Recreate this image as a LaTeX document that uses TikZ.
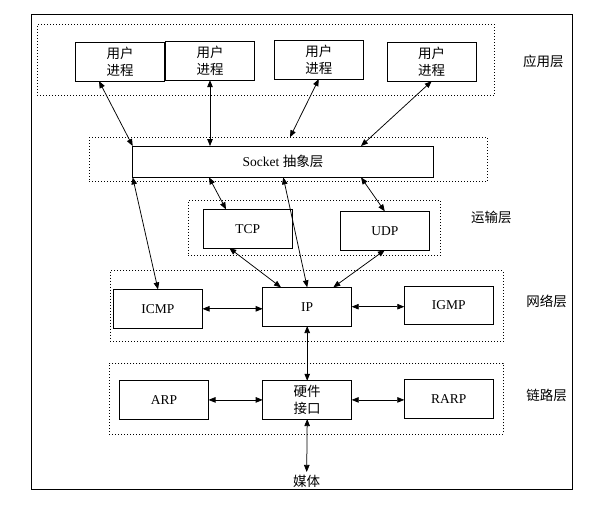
\documentclass[tikz,border=0pt]{standalone}
\usepackage{fontspec}
\setmainfont{Liberation Serif}
\newfontfamily\cjk{Noto Sans CJK SC}
\usetikzlibrary{arrows.meta,calc}
\begin{document}
\begin{tikzpicture}[x=1pt,y=-1pt,
  box/.style={draw, line width=1pt, inner sep=0pt, outer sep=0pt,
    minimum width=89pt, minimum height=38.7pt, align=center,
    font=\fontsize{13.5}{17.6}\selectfont},
  dotbox/.style={draw, line width=0.9pt, dash pattern=on 1pt off 2pt,
    inner sep=0pt, outer sep=0pt},
  lbl/.style={font=\cjk\fontsize{13.5}{16}\selectfont},
  link/.style={line width=0.75pt,
    {Triangle[length=7pt,width=5.5pt]}-{Triangle[length=7pt,width=5.5pt]}}
]
\useasboundingbox (0,0) rectangle (605,522);
% outer frame
\draw[line width=1pt] (31.7,14.3) rectangle (572.7,489);
% dotted layer boxes
\node[dotbox, minimum width=457pt, minimum height=71.4pt] (appd) at (265.8,60) {};
\node[dotbox, minimum width=398pt, minimum height=44.2pt] (sockd) at (288.3,159.4) {};
\node[dotbox, minimum width=252pt, minimum height=55.4pt] (transd) at (314.3,228) {};
\node[dotbox, minimum width=393.3pt, minimum height=70.5pt] (netd) at (306.65,305.95) {};
\node[dotbox, minimum width=394pt, minimum height=71pt] (linkd) at (306.3,398.8) {};
% boxes
\node[box] (u1) at (120.2,61.7) {\cjk 用户\\\cjk 进程};
\node[box] (u2) at (210,60.8) {\cjk 用户\\\cjk 进程};
\node[box] (u3) at (318.8,59.7) {\cjk 用户\\\cjk 进程};
\node[box] (u4) at (431.7,61.8) {\cjk 用户\\\cjk 进程};
\node[box, minimum width=300.6pt, minimum height=31.3pt] (sock) at (283,161.7) {Socket {\cjk 抽象层}};
\node[box] (tcp) at (247.8,228.7) {TCP};
\node[box] (udp) at (384.8,230.7) {UDP};
\node[box] (icmp) at (158,308.8) {ICMP};
\node[box] (ip) at (307.2,306.7) {IP};
\node[box] (igmp) at (448.8,305.5) {IGMP};
\node[box, minimum height=38.3pt] (arp) at (164,399.9) {ARP};
\node[box, minimum height=38.3pt] (hw) at (307.2,399.9) {\cjk 硬件\\\cjk 接口};
\node[box] (rarp) at (448.8,398.8) {RARP};
% labels
\node[lbl] (lapp) at (543.3,61) {应用层};
\node[lbl] (ltrans) at (491.3,217.7) {运输层};
\node[lbl] (lnet) at (546.7,301.7) {网络层};
\node[lbl] (llink) at (546.7,395.7) {链路层};
\node[lbl] (media) at (306.7,481.7) {媒体};
% connectors
\draw[link] ([xshift=23.3pt]u1.south west) -- (sock.north west);
\draw[link] (u2.south) -- (u2.south |- sock.north);
\draw[link] (u3.south) -- ([xshift=200.7pt]sockd.north west);
\draw[link] (u4.south) -- ([xshift=228.3pt]sock.north west);
\draw[link] (sock.south west) -- (icmp.north);
\draw[link] ([xshift=76.3pt]sock.south west) -- ([xshift=22.7pt]tcp.north west);
\draw[link] ([xshift=150.6pt]sock.south west) -- (ip.north);
\draw[link] ([xshift=228.3pt]sock.south west) -- (udp.north);
\draw[link] ([xshift=26pt]tcp.south west) -- ([xshift=18.3pt]ip.north west);
\draw[link] (udp.south) -- ([xshift=-18.4pt]ip.north east);
\draw[link] (icmp.east) -- (icmp.east -| ip.west);
\draw[link] (ip.east) -- (ip.east -| igmp.west);
\draw[link] (ip.south) -- (hw.north);
\draw[link] (arp.east) -- (hw.west);
\draw[link] (hw.east) -- (hw.east -| rarp.west);
\draw[link] (hw.south) -- (media.north);
\end{tikzpicture}
\end{document}
